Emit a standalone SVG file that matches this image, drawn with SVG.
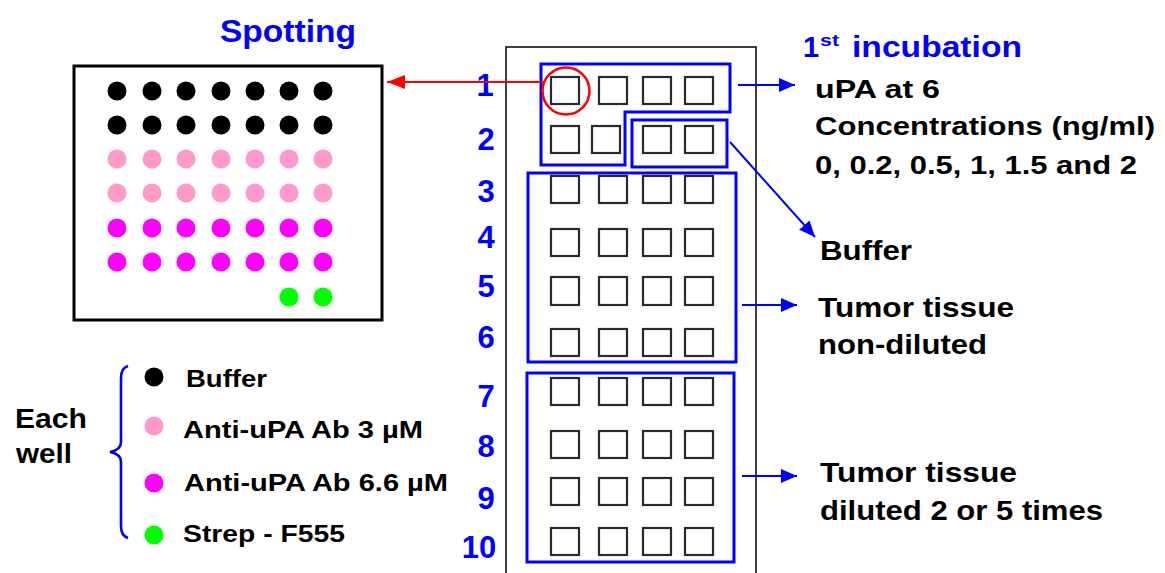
<svg xmlns="http://www.w3.org/2000/svg" width="1165" height="573" viewBox="0 0 1165 573">
<style>
.t{font-family:"Liberation Sans",Arial,sans-serif;font-weight:bold;fill:#000}
.b{fill:#0000FF}
.n{font-size:31px;text-anchor:middle}
.well{fill:none;stroke:#2a2a2a;stroke-width:2.2}
.grp{fill:none;stroke:#0000FF;stroke-width:3}
.bl{stroke:#0000FF;stroke-width:2;fill:none}
.k{fill:#000}.p{fill:#FF99CC}.m{fill:#FF00FF}.g{fill:#00FF00}
</style>
<defs>
<marker id="ab" viewBox="0 0 16 14" refX="16" refY="7" markerWidth="16" markerHeight="14" markerUnits="userSpaceOnUse" orient="auto"><path d="M0,0 L16,7 L0,14 z" fill="#0000FF"/></marker>
<marker id="ar" viewBox="0 0 18 14" refX="18" refY="7" markerWidth="18" markerHeight="14" markerUnits="userSpaceOnUse" orient="auto"><path d="M0,0 L18,7 L0,14 z" fill="#FF0000"/></marker>
</defs>

<g id="spotting">
<text class="t b" x="220" y="42" font-size="32" textLength="136" lengthAdjust="spacingAndGlyphs">Spotting</text>
<rect x="74" y="66" width="308" height="254" fill="#fff" stroke="#000" stroke-width="3"/>
<g class="k"><circle cx="117" cy="91" r="9.5"/><circle cx="152" cy="91" r="9.5"/><circle cx="186" cy="91" r="9.5"/><circle cx="221" cy="91" r="9.5"/><circle cx="255" cy="91" r="9.5"/><circle cx="289" cy="91" r="9.5"/><circle cx="323" cy="91" r="9.5"/>
<circle cx="117" cy="125" r="9.5"/><circle cx="152" cy="125" r="9.5"/><circle cx="186" cy="125" r="9.5"/><circle cx="221" cy="125" r="9.5"/><circle cx="255" cy="125" r="9.5"/><circle cx="289" cy="125" r="9.5"/><circle cx="323" cy="125" r="9.5"/></g>
<g class="p"><circle cx="117" cy="159" r="9.5"/><circle cx="152" cy="159" r="9.5"/><circle cx="186" cy="159" r="9.5"/><circle cx="221" cy="159" r="9.5"/><circle cx="255" cy="159" r="9.5"/><circle cx="289" cy="159" r="9.5"/><circle cx="323" cy="159" r="9.5"/>
<circle cx="117" cy="193" r="9.5"/><circle cx="152" cy="193" r="9.5"/><circle cx="186" cy="193" r="9.5"/><circle cx="221" cy="193" r="9.5"/><circle cx="255" cy="193" r="9.5"/><circle cx="289" cy="193" r="9.5"/><circle cx="323" cy="193" r="9.5"/></g>
<g class="m"><circle cx="117" cy="228" r="9.5"/><circle cx="152" cy="228" r="9.5"/><circle cx="186" cy="228" r="9.5"/><circle cx="221" cy="228" r="9.5"/><circle cx="255" cy="228" r="9.5"/><circle cx="289" cy="228" r="9.5"/><circle cx="323" cy="228" r="9.5"/>
<circle cx="117" cy="262" r="9.5"/><circle cx="152" cy="262" r="9.5"/><circle cx="186" cy="262" r="9.5"/><circle cx="221" cy="262" r="9.5"/><circle cx="255" cy="262" r="9.5"/><circle cx="289" cy="262" r="9.5"/><circle cx="323" cy="262" r="9.5"/></g>
<g class="g"><circle cx="289" cy="297" r="9.5"/><circle cx="323" cy="297" r="9.5"/></g>
</g>

<g id="legend">
<text class="t" x="15" y="428" font-size="28" textLength="72" lengthAdjust="spacingAndGlyphs">Each</text>
<text class="t" x="16" y="463" font-size="28" textLength="56" lengthAdjust="spacingAndGlyphs">well</text>
<path d="M128,366 Q121,368 121,378 L121,442 Q121,450 110,452 Q121,454 121,462 L121,526 Q121,536 128,538" fill="none" stroke="#0000FF" stroke-width="2.6"/>
<circle cx="154" cy="377" r="9.5" class="k"/>
<circle cx="154" cy="426" r="9.5" class="p"/>
<circle cx="154" cy="483" r="9.5" class="m"/>
<circle cx="154" cy="535" r="9.5" class="g"/>
<text class="t" x="186" y="387" font-size="24" textLength="81" lengthAdjust="spacingAndGlyphs">Buffer</text>
<text class="t" x="183" y="438" font-size="24" textLength="240" lengthAdjust="spacingAndGlyphs">Anti-uPA Ab 3 µM</text>
<text class="t" x="184" y="491" font-size="24" textLength="264" lengthAdjust="spacingAndGlyphs">Anti-uPA Ab 6.6 µM</text>
<text class="t" x="183" y="542" font-size="24" textLength="162" lengthAdjust="spacingAndGlyphs">Strep - F555</text>
</g>

<g id="plate">
<rect x="506" y="47" width="250" height="540" fill="none" stroke="#111" stroke-width="1.6"/>
<g class="t b n">
<text x="485" y="96">1</text><text x="486" y="150">2</text><text x="486" y="202">3</text><text x="486" y="248">4</text><text x="486" y="297">5</text><text x="486" y="348">6</text><text x="486" y="407">7</text><text x="486" y="457">8</text><text x="486" y="509">9</text><text x="479" y="558">10</text>
</g>
<g class="well">
<rect x="551" y="77" width="28" height="27"/><rect x="599" y="77" width="28" height="27"/><rect x="643" y="77" width="28" height="27"/><rect x="685" y="77" width="28" height="27"/>
<rect x="551" y="126" width="28" height="27"/><rect x="592" y="126" width="28" height="27"/><rect x="643" y="126" width="28" height="27"/><rect x="685" y="126" width="28" height="27"/>
<rect x="551" y="176" width="28" height="27"/><rect x="599" y="176" width="28" height="27"/><rect x="643" y="176" width="28" height="27"/><rect x="685" y="176" width="28" height="27"/>
<rect x="551" y="229" width="28" height="27"/><rect x="599" y="229" width="28" height="27"/><rect x="643" y="229" width="28" height="27"/><rect x="685" y="229" width="28" height="27"/>
<rect x="551" y="277" width="28" height="28"/><rect x="599" y="277" width="28" height="28"/><rect x="643" y="277" width="28" height="28"/><rect x="685" y="277" width="28" height="28"/>
<rect x="551" y="329" width="28" height="27"/><rect x="599" y="329" width="28" height="27"/><rect x="643" y="329" width="28" height="27"/><rect x="685" y="329" width="28" height="27"/>
<rect x="551" y="378" width="28" height="27"/><rect x="599" y="378" width="28" height="27"/><rect x="643" y="378" width="28" height="27"/><rect x="685" y="378" width="28" height="27"/>
<rect x="551" y="431" width="28" height="27"/><rect x="599" y="431" width="28" height="27"/><rect x="643" y="431" width="28" height="27"/><rect x="685" y="431" width="28" height="27"/>
<rect x="551" y="478" width="28" height="27"/><rect x="599" y="478" width="28" height="27"/><rect x="643" y="478" width="28" height="27"/><rect x="685" y="478" width="28" height="27"/>
<rect x="551" y="528" width="28" height="27"/><rect x="599" y="528" width="28" height="27"/><rect x="643" y="528" width="28" height="27"/><rect x="685" y="528" width="28" height="27"/>
</g>
<path class="grp" d="M541,64 L730,64 L730,112 L625,112 L625,165 L541,165 Z"/>
<rect class="grp" x="632" y="120" width="95" height="47"/>
<rect class="grp" x="528" y="173" width="208" height="189"/>
<rect class="grp" x="527" y="373" width="207" height="189"/>
<circle cx="566" cy="91" r="23.5" fill="none" stroke="#FF0000" stroke-width="2.5"/>
</g>

<g id="connectors">
<line x1="543" y1="82" x2="387" y2="82" stroke="#FF0000" stroke-width="2" marker-end="url(#ar)"/>
<line x1="738" y1="85" x2="795" y2="85" class="bl" marker-end="url(#ab)"/>
<line x1="730" y1="142" x2="815" y2="237" class="bl" marker-end="url(#ab)"/>
<line x1="742" y1="305" x2="797" y2="305" class="bl" marker-end="url(#ab)"/>
<line x1="742" y1="476" x2="797" y2="476" class="bl" marker-end="url(#ab)"/>
</g>

<g id="labels">
<text class="t b" x="803" y="57" font-size="29">1</text>
<text class="t b" x="820" y="46" font-size="17" textLength="19" lengthAdjust="spacingAndGlyphs">st</text>
<text class="t b" x="852" y="57" font-size="29" textLength="170" lengthAdjust="spacingAndGlyphs">incubation</text>
<text class="t" x="815" y="98" font-size="26" textLength="125" lengthAdjust="spacingAndGlyphs">uPA at 6</text>
<text class="t" x="815" y="135" font-size="26" textLength="340" lengthAdjust="spacingAndGlyphs">Concentrations (ng/ml)</text>
<text class="t" x="815" y="174" font-size="26" textLength="322" lengthAdjust="spacingAndGlyphs">0, 0.2, 0.5, 1, 1.5 and 2</text>
<text class="t" x="820" y="260" font-size="27" textLength="92" lengthAdjust="spacingAndGlyphs">Buffer</text>
<text class="t" x="818" y="317" font-size="27" textLength="196" lengthAdjust="spacingAndGlyphs">Tumor tissue</text>
<text class="t" x="818" y="354" font-size="27" textLength="169" lengthAdjust="spacingAndGlyphs">non-diluted</text>
<text class="t" x="820" y="482" font-size="27" textLength="197" lengthAdjust="spacingAndGlyphs">Tumor tissue</text>
<text class="t" x="820" y="520" font-size="27" textLength="283" lengthAdjust="spacingAndGlyphs">diluted 2 or 5 times</text>
</g>
</svg>
